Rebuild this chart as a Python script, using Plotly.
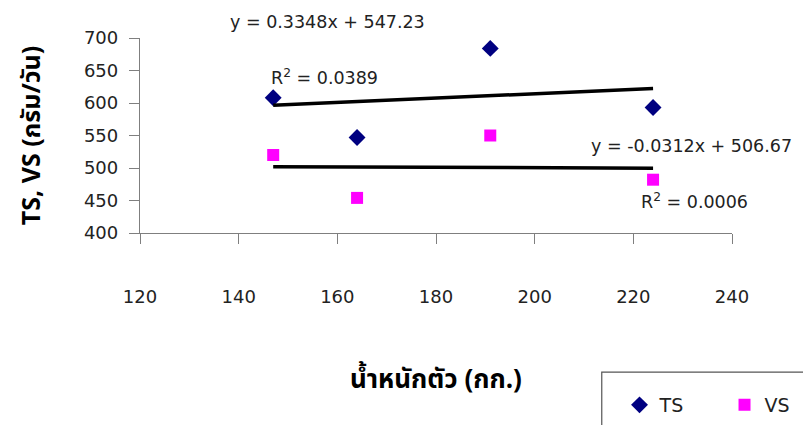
import plotly.graph_objects as go

# Body weight (kg) of the animals
weight = [147, 164, 191, 224]
# Total solids and volatile solids excreted (g/day)
ts_vals = [608, 547, 684, 593]
vs_vals = [520, 454, 550, 482]

# Linear trendline coefficients and fit quality
ts_slope, ts_intercept, ts_r2 = 0.3348, 547.23, 0.0389
vs_slope, vs_intercept, vs_r2 = -0.0312, 506.67, 0.0006

x_ticks = [120, 140, 160, 180, 200, 220, 240]
y_ticks = [400, 450, 500, 550, 600, 650, 700]

FONT = "DejaVu Sans, Verdana, sans-serif"
THAI_FONT = "Noto Sans Thai, Noto Sans, Tahoma, sans-serif"
TXT = "#222222"
AX = "#7f7f7f"

fig = go.Figure()

fig.add_trace(go.Scatter(
    x=weight, y=ts_vals, mode="markers", name="TS",
    marker=dict(symbol="diamond", size=13, color="#000080"),
))
fig.add_trace(go.Scatter(
    x=weight, y=vs_vals, mode="markers", name="VS",
    marker=dict(symbol="square", size=12, color="#FF00FF"),
))

# trendlines over the data range, from the fitted equations
x_fit = [min(weight), max(weight)]
for slope, icpt in [(ts_slope, ts_intercept), (vs_slope, vs_intercept)]:
    fig.add_trace(go.Scatter(
        x=x_fit, y=[slope * v + icpt for v in x_fit], mode="lines",
        line=dict(color="black", width=3.5), showlegend=False, hoverinfo="skip",
    ))

def eq_text(slope, icpt):
    sign = "+" if icpt >= 0 else "-"
    return f"y = {slope:.4f}x {sign} {abs(icpt):.2f}"

# equation / R² labels (paper coordinates: x 0..1 over 120..240, y 0..1 over 400..700)
def px(v):
    return (v - 120) / 120.0

def py(v):
    return (v - 400) / 300.0

labels = [
    (eq_text(ts_slope, ts_intercept), px(158.0), py(725.0), "center"),
    (f"R<sup>2</sup> = {ts_r2:.4f}", px(146.2), py(640.0), "left"),
    (eq_text(vs_slope, vs_intercept), px(211.0), py(534.0), "left"),
    (f"R<sup>2</sup> = {vs_r2:.4f}", px(221.2), py(450.0), "left"),
]
for text, ax_, ay_, anc in labels:
    fig.add_annotation(xref="paper", yref="paper", x=ax_, y=ay_, text=text,
                       showarrow=False, xanchor=anc, yanchor="middle",
                       font=dict(family=FONT, size=17.5, color=TXT))

# axis titles
fig.add_annotation(xref="paper", yref="paper", x=0.5, y=-0.754,
                   text="<b>น้ำหนักตัว (กก.)</b>", showarrow=False,
                   xanchor="center", yanchor="middle",
                   font=dict(family=THAI_FONT, size=26, color="black"))
fig.add_annotation(xref="paper", yref="paper", x=-0.183, y=0.50,
                   text="<b>TS, VS (กรัม/วัน)</b>", showarrow=False, textangle=-90,
                   xanchor="center", yanchor="middle",
                   font=dict(family=THAI_FONT, size=25, color="black"))

# legend frame
fig.add_shape(type="rect", xref="paper", yref="paper",
              x0=0.780, x1=1.25, y0=-0.713, y1=-1.2,
              line=dict(color="#555555", width=1.2), fillcolor="white", layer="below")

fig.update_layout(
    width=803, height=425,
    margin=dict(l=140, r=71, t=38, b=192, autoexpand=False),
    paper_bgcolor="white", plot_bgcolor="white",
    showlegend=True,
    legend=dict(orientation="h", x=0.81, y=-0.882, xanchor="left", yanchor="middle",
                xref="paper", yref="paper",
                font=dict(family=FONT, size=19, color=TXT),
                bgcolor="rgba(0,0,0,0)", borderwidth=0, entrywidth=60,
                itemclick=False),
    xaxis=dict(range=[120, 240], tickvals=x_ticks, ticks="outside", ticklen=10,
               tickcolor=AX, showline=True, linecolor=AX, linewidth=1.3,
               showgrid=False, zeroline=False, ticklabelstandoff=37,
               tickfont=dict(family=FONT, size=18, color=TXT)),
    yaxis=dict(range=[400, 700], tickvals=y_ticks, ticks="outside", ticklen=10,
               tickcolor=AX, showline=True, linecolor=AX, linewidth=1.3,
               showgrid=False, zeroline=False, ticklabelstandoff=7,
               tickfont=dict(family=FONT, size=18, color=TXT)),
)

fig.write_html("out.html")
